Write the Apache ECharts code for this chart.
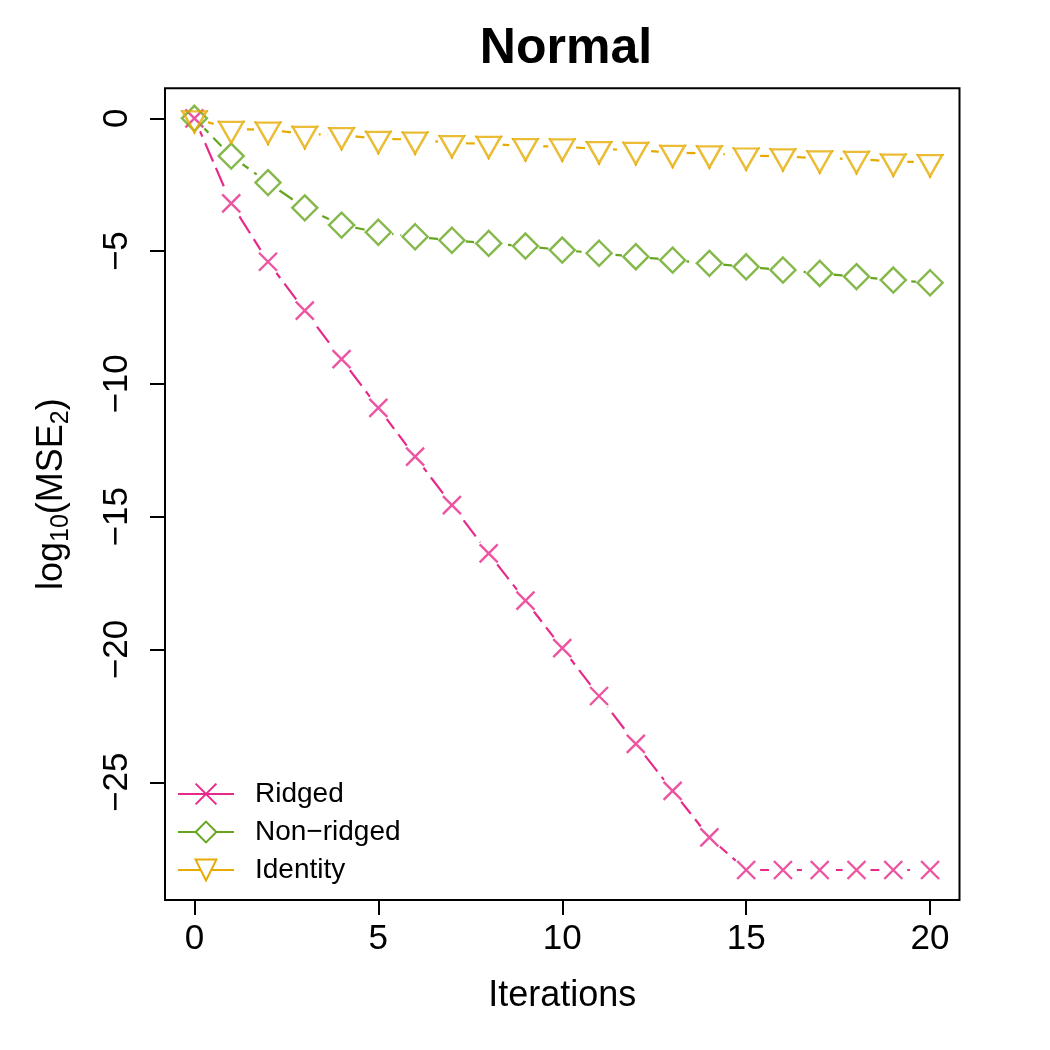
<!DOCTYPE html>
<html>
<head>
<meta charset="utf-8">
<script src="https://cdn.jsdelivr.net/npm/echarts@6/dist/echarts.min.js"></script>
<style>html,body{margin:0;padding:0;background:#fff;}#c{width:1050px;height:1050px;}</style>
</head>
<body>
<div id="c"></div>
<script>
const iterations = [0,1,2,3,4,5,6,7,8,9,10,11,12,13,14,15,16,17,18,19,20];
const ridged = [0,-3.2,-5.4,-7.24,-9.07,-10.9,-12.74,-14.56,-16.38,-18.16,-19.95,-21.75,-23.55,-25.32,-27.07,-28.3,-28.3,-28.3,-28.3,-28.3,-28.3];
const nonRidged = [0,-1.42,-2.42,-3.37,-4.02,-4.29,-4.46,-4.59,-4.71,-4.81,-4.96,-5.08,-5.21,-5.34,-5.46,-5.59,-5.71,-5.84,-5.96,-6.09,-6.19];
const identity = [0,-0.40,-0.43,-0.59,-0.63,-0.77,-0.80,-0.93,-0.96,-1.05,-1.06,-1.16,-1.19,-1.30,-1.32,-1.40,-1.43,-1.51,-1.53,-1.63,-1.65];
const xTicks = [0,5,10,15,20];
const yTicks = [0,-5,-10,-15,-20,-25];
const seriesNames = ['Ridged','Non\u2212ridged','Identity'];
const colors = ['#E7298A','#66A61E','#E6AB02'];

const FONT = '"Liberation Sans", Arial, Helvetica, sans-serif';
const pairs = arr => iterations.map((x,i)=>[x, arr[i]]);
const values = [ridged, nonRidged, identity];
const symbols = [
  {symbol:'path://M0,0L1,1M1,0L0,1', size:18, offset:[0,0]},
  {symbol:'diamond', size:25, offset:[0,0]},
  {symbol:'path://M0,0L2,0L1,1.732Z', size:[24,21], offset:[0,3.5]}
];

const series = [];
values.forEach((v,i)=>{
  series.push({
    name: seriesNames[i], type:'line', data: pairs(v), z:2,
    symbol: symbols[i].symbol, symbolSize: symbols[i].size, symbolOffset: symbols[i].offset,
    showSymbol:true, symbolKeepAspect:false,
    lineStyle:{color:colors[i], width:2.2, type:[20,7]},
    itemStyle:{color:'#fff', borderColor:colors[i], borderWidth:2.4},
    emphasis:{disabled:true}, animation:false, silent:true
  });
});
values.forEach((v,i)=>{
  series.push({
    type:'scatter', data: pairs(v), z:3, symbol:'circle', symbolSize:28,
    itemStyle:{color:'#ffffff', opacity:1, borderWidth:0}, silent:true, animation:false, emphasis:{disabled:true}
  });
});
values.forEach((v,i)=>{
  series.push({
    type:'scatter', data: pairs(v), z:4,
    symbol: symbols[i].symbol, symbolSize: symbols[i].size, symbolOffset: symbols[i].offset,
    itemStyle:{color:'rgba(0,0,0,0)', borderColor:colors[i], borderWidth:2.4},
    silent:true, animation:false, emphasis:{disabled:true}
  });
});

const minus = v => String(v).replace('-', '\u2212');

const option = {
  backgroundColor:'#fff',
  animation:false,
  title:{
    text:'Normal', left:561, top:19, textAlign:'center',
    textStyle:{fontFamily:FONT, fontWeight:'bold', fontSize:50, color:'#000'}
  },
  legend:{
    data: seriesNames, orient:'vertical', left:172, top:775,
    itemWidth:56, itemHeight:26, itemGap:10,
    lineStyle:{type:'solid', width:2},
    textStyle:{fontFamily:FONT, fontSize:28, color:'#000', padding:[0,0,0,16]},
    selectedMode:false
  },
  grid:{left:165, right:90.5, top:88.3, bottom:150, show:true, borderColor:'#000', borderWidth:2, backgroundColor:'transparent'},
  xAxis:{
    type:'value', min:-0.8, max:20.8,
    splitLine:{show:false}, axisLine:{show:false, onZero:false},
    axisTick:{show:true, customValues:xTicks, length:15, lineStyle:{color:'#000', width:2}},
    axisLabel:{customValues:xTicks, fontFamily:FONT, fontSize:35, color:'#000', margin:22},
    name:'Iterations', nameLocation:'middle', nameGap:78,
    nameTextStyle:{fontFamily:FONT, fontSize:36, color:'#000'}
  },
  yAxis:{
    type:'value', min:-29.43, max:1.13,
    splitLine:{show:false}, axisLine:{show:false, onZero:false},
    axisTick:{show:true, customValues:yTicks, length:15, lineStyle:{color:'#000', width:2}},
    axisLabel:{customValues:yTicks, rotate:90, fontFamily:FONT, fontSize:35, color:'#000', margin:30, formatter:minus},
    name:'{a|log}{s|10}{a|(MSE}{s|2}{a|)}', nameLocation:'middle', nameGap:91, nameRotate:90,
    nameTextStyle:{
      fontFamily:FONT, fontSize:36, color:'#000',
      rich:{
        a:{fontFamily:FONT, fontSize:36, color:'#000', lineHeight:44, verticalAlign:'middle'},
        s:{fontFamily:FONT, fontSize:25, color:'#000', lineHeight:22, verticalAlign:'bottom'}
      }
    }
  },
  series: series
};
const chart = echarts.init(document.getElementById('c'), null, {renderer:'canvas'});
chart.setOption(option);
</script>
</body>
</html>
